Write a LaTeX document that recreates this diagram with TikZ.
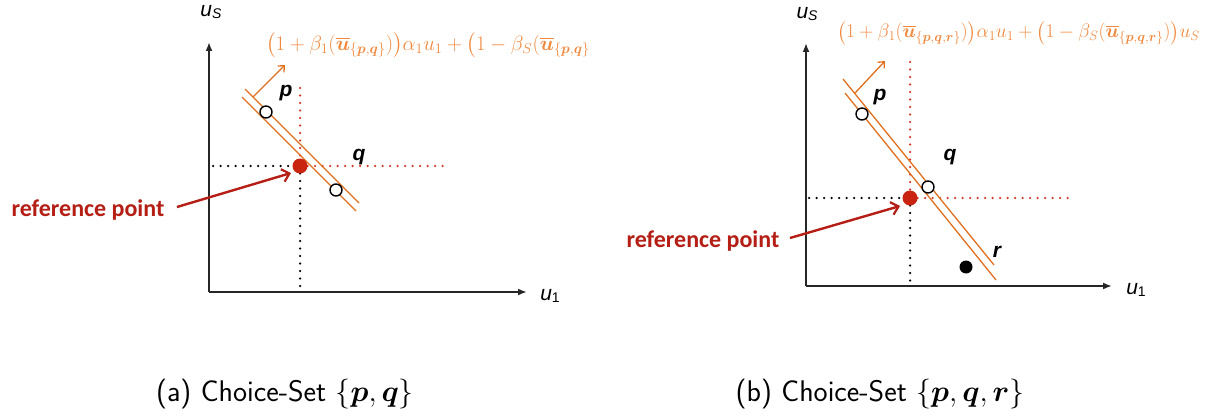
\documentclass[tikz,border=0pt]{standalone}
\usepackage{amsmath}
\usepackage{graphicx}
\usepackage{fontspec}
\newfontfamily\helv{Liberation Sans}
\newfontfamily\calib{Carlito}
\usetikzlibrary{arrows.meta}
\definecolor{lineor}{HTML}{E0701E}
\definecolor{formor}{HTML}{F0883E}
\definecolor{refred}{HTML}{B41E14}
\definecolor{dotred}{HTML}{C82410}
\definecolor{dred}{HTML}{D23A28}
\begin{document}
\begin{tikzpicture}[x=1pt,y=-1pt,
  axis/.style={line width=1.8pt,draw=black!85,-{Latex[length=9pt,width=7pt]}},
  budget/.style={draw=lineor,line width=1.3pt},
  normarrow/.style={draw=lineor,line width=1.3pt,-{Straight Barb[length=5pt,width=9pt,line width=1.3pt]}},
  refarrow/.style={draw=refred,line width=2.4pt,-{Straight Barb[length=7pt,width=13pt,line width=2.2pt]}},
  blkdots/.style={draw=black,line width=2.5pt,line cap=round,dash pattern=on 0pt off 7.5pt},
  reddots/.style={draw=dred,line width=2.5pt,line cap=round,dash pattern=on 0pt off 7.5pt},
  opt/.style={circle,draw=black,fill=white,line width=1.4pt,minimum size=12pt,inner sep=0pt},
  refdot/.style={circle,fill=dotred,minimum size=15pt,inner sep=0pt},
  blackdot/.style={circle,fill=black,minimum size=13pt,inner sep=0pt},
  axlab/.style={font=\helv\fontsize{21}{24}\selectfont,inner sep=0pt},
  ptlab/.style={font=\helv\bfseries\itshape\fontsize{21}{24}\selectfont,inner sep=0pt},
  reftext/.style={font=\calib\bfseries\fontsize{24}{28}\selectfont,text=refred,inner sep=0pt},
  formula/.style={text=formor,font=\fontsize{16.5}{20}\selectfont,inner sep=0pt,anchor=west},
  caption/.style={font=\sffamily\fontsize{24.88}{30}\selectfont,inner sep=0pt}
]
\useasboundingbox (0,0) rectangle (1228,417);

% ---------------- panel (a)
\coordinate (Oa) at (209,292);
\coordinate (Ya) at (209,42);
\coordinate (Xa) at (527,292);
\draw[axis] (Oa) -- (Ya);
\draw[axis] (Oa) -- (Xa);
\node[axlab] (uSa) at (211,12) {\itshape u\raisebox{-0.25ex}{\fontsize{14}{16}\selectfont S}};
\node[axlab] (u1a) at (550,296) {\itshape u\raisebox{-0.25ex}{\upshape\fontsize{14}{16}\selectfont 1}};

\coordinate (Ra) at (300,166);
\coordinate (Rva) at (300,88);
\coordinate (Rba) at (300,292);
\coordinate (Rla) at (213,166);
\coordinate (Rra) at (450,166);
\draw[reddots] (Rva) -- (Ra);
\draw[blkdots] (Ra) -- (Rba);
\draw[blkdots] (Rla) -- (Ra);
\draw[reddots] (Ra) -- (Rra);

\coordinate (A1) at (245,89);
\coordinate (A2) at (359,203);
\coordinate (B1) at (242,97);
\coordinate (B2) at (356,211);
\draw[budget] (A1) -- (A2);
\draw[budget] (B1) -- (B2);
\coordinate (Na) at (253,97);
\coordinate (Nta) at (285,65);
\draw[normarrow] (Na) -- (Nta);

\node[refdot] (refa) at (Ra) {};
\node[opt] (pa) at (266,112) {};
\node[opt] (qa) at (336,190) {};
\node[ptlab] (pla) at (286,93) {p};
\node[ptlab] (qla) at (359,157) {q};

\node[reftext] (rta) at (88,210) {reference point};
\coordinate (rsa) at (177,207);
\coordinate (rea) at (291,173);
\draw[refarrow] (rsa) -- (rea);

\node[formula] (fa) at (266,45) {\scalebox{1.2}{$\bigl(1+\beta_1(\overline{\boldsymbol u}_{\{\boldsymbol p,\boldsymbol q\}})\bigr)\alpha_1u_1+\bigl(1-\beta_S(\overline{\boldsymbol u}_{\{\boldsymbol p,\boldsymbol q\}}$}};

\node[caption] (capa) at (285,394) {\scalebox{1.2}{(a) Choice-Set $\{\boldsymbol p,\boldsymbol q\}$}};

% ---------------- panel (b)
\coordinate (Ob) at (806,286);
\coordinate (Yb) at (806,43);
\coordinate (Xb) at (1112,286);
\draw[axis] (Ob) -- (Yb);
\draw[axis] (Ob) -- (Xb);
\node[axlab] (uSb) at (807,14) {\itshape u\raisebox{-0.25ex}{\fontsize{14}{16}\selectfont S}};
\node[axlab] (u1b) at (1136,290) {\itshape u\raisebox{-0.25ex}{\upshape\fontsize{14}{16}\selectfont 1}};

\coordinate (Rb) at (910,198);
\coordinate (Rvb) at (910,62);
\coordinate (Rbb) at (910,286);
\coordinate (Rlb) at (809,198);
\coordinate (Rrb) at (1068,198);
\draw[reddots] (Rvb) -- (Rb);
\draw[blkdots] (Rb) -- (Rbb);
\draw[blkdots] (Rlb) -- (Rb);
\draw[reddots] (Rb) -- (Rrb);

\coordinate (C1) at (843,79);
\coordinate (C2) at (994,265);
\coordinate (D1) at (845,93);
\coordinate (D2) at (996,280);
\draw[budget] (C1) -- (C2);
\draw[budget] (D1) -- (D2);
\coordinate (Nb) at (855,93);
\coordinate (Ntb) at (885,61);
\draw[normarrow] (Nb) -- (Ntb);

\node[refdot] (refb) at (Rb) {};
\node[opt] (pb) at (862,114) {};
\node[opt] (qb) at (928,187) {};
\node[blackdot] (rb) at (966,267) {};
\node[ptlab] (plb) at (880,97) {p};
\node[ptlab] (qlb) at (950,157) {q};
\node[ptlab] (rlb) at (997,252) {r};

\node[reftext] (rtb) at (703,241) {reference point};
\coordinate (rsb) at (790,238);
\coordinate (reb) at (900,206);
\draw[refarrow] (rsb) -- (reb);

\node[formula] (fb) at (837,33) {\scalebox{1.127}{$\bigl(1+\beta_1(\overline{\boldsymbol u}_{\{\boldsymbol p,\boldsymbol q,\boldsymbol r\}})\bigr)\alpha_1u_1+\bigl(1-\beta_S(\overline{\boldsymbol u}_{\{\boldsymbol p,\boldsymbol q,\boldsymbol r\}})\bigr)u_S$}};

\node[caption] (capb) at (880,394) {\scalebox{1.2}{(b) Choice-Set $\{\boldsymbol p,\boldsymbol q,\boldsymbol r\}$}};
\end{tikzpicture}
\end{document}
